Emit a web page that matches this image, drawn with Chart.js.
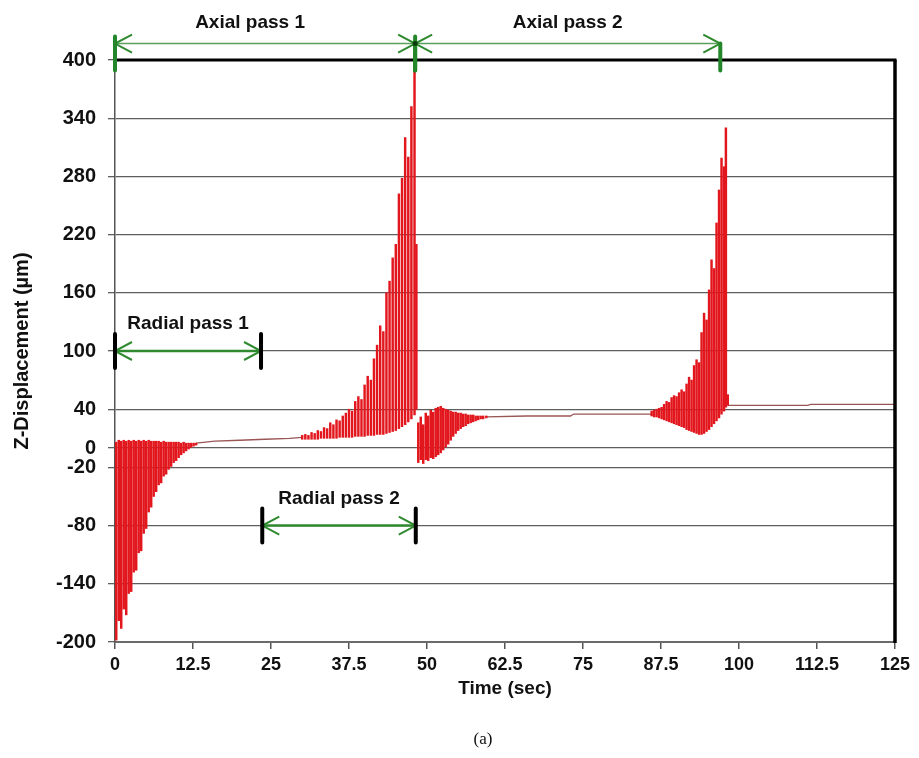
<!DOCTYPE html>
<html>
<head>
<meta charset="utf-8">
<script src="https://cdn.jsdelivr.net/npm/chart.js@4.4.1/dist/chart.umd.min.js"></script>
<style>
  html, body { margin: 0; padding: 0; background: #ffffff; }
  #wrap { width: 919px; height: 758px; position: relative; }
</style>
</head>
<body>
<div id="wrap"><canvas id="c"></canvas></div>
<script>
// Tick values of both axes
const xTickValues = [0, 12.5, 25, 37.5, 50, 62.5, 75, 87.5, 100, 112.5, 125];
const yTickValues = [400, 340, 280, 220, 160, 100, 40, 0, -20, -80, -140, -200];

// Oscillating displacement: each sample is one vertical swing (time, lowest, highest) in µm
const sampleTime = [
  0.2, 0.6, 1.0, 1.4, 1.8, 2.2, 2.6, 3.0, 3.4, 3.8, 4.2, 4.6, 5.0, 5.4, 5.8, 6.2, 6.6,
  7.0, 7.4, 7.8, 8.2, 8.6, 9.0, 9.4, 9.8, 10.2, 10.6, 11.0, 11.4, 11.8, 12.2, 12.6, 13.0,
  30.0, 30.5, 31.0, 31.5, 32.0, 32.5, 33.0, 33.5, 34.0, 34.5, 35.0, 35.5, 36.0, 36.5,
  37.0, 37.5, 38.0, 38.5, 39.0, 39.5, 40.0, 40.5, 41.0, 41.5, 42.0, 42.5, 43.0, 43.5,
  44.0, 44.5, 45.0, 45.5, 46.0, 46.5, 47.0, 47.5, 48.0, 48.3,
  48.6, 49.0, 49.4, 49.8, 50.2, 50.6, 51.0, 51.4, 51.8, 52.2, 52.6, 53.0, 53.4, 53.8,
  54.2, 54.6, 55.0, 55.4, 55.8, 56.2, 56.6, 57.0, 57.4, 57.8, 58.2, 58.6, 59.0, 59.5,
  86.0, 86.4, 86.8, 87.2, 87.6, 88.0, 88.4, 88.8, 89.2, 89.6, 90.0, 90.4, 90.8, 91.2,
  91.6, 92.0, 92.4, 92.8, 93.2, 93.6, 94.0, 94.4, 94.8, 95.2, 95.6, 96.0, 96.4, 96.8,
  97.2, 97.6, 97.9, 98.2
];
const sampleLow = [
  -198, -178, -186, -166, -172, -150, -148, -128, -126, -108, -106, -88, -83, -66, -61, -50, -45,
  -38, -36, -29, -27, -22, -19, -15, -13, -10, -7, -5, -3, -1, 0, 2, 3,
  9, 9, 9, 9, 9, 9, 10, 10, 10, 10, 10, 10, 11, 11,
  11, 11, 11, 12, 12, 12, 12, 13, 13, 13, 14, 14, 14, 15,
  16, 17, 18, 20, 22, 24, 27, 30, 34, 40,
  -15, -12, -16, -12, -13, -10, -11, -9, -7, -5, -2, 1, 4, 8,
  12, 15, 18, 20, 22, 23, 25, 26, 27, 28, 29, 30, 30, 31,
  33, 32, 32, 31, 30, 29, 28, 27, 26, 25, 24, 23, 22, 21,
  19, 18, 17, 16, 15, 14, 14, 15, 17, 19, 22, 25, 28, 31,
  35, 38, 42, 44
];
const sampleHigh = [
  6, 8, 7, 8, 7, 8, 7, 8, 7, 8, 7, 8, 7, 8, 7, 7, 7,
  7, 6, 7, 6, 6, 6, 6, 6, 6, 5, 6, 5, 5, 5, 5, 5,
  13, 14, 13, 16, 15, 18, 17, 21, 20, 26, 24, 29, 28, 33,
  36, 40, 38, 48, 53, 50, 65, 74, 70, 92, 106, 126, 120, 160,
  172, 196, 210, 262, 278, 320, 300, 352, 392, 210,
  26, 32, 24, 36, 33, 39, 37, 41, 42, 43, 41, 40, 39, 38,
  37, 37, 36, 36, 35, 35, 34, 34, 34, 33, 33, 33, 33, 33,
  38, 39, 40, 41, 42, 45, 48, 47, 52, 54, 53, 57, 60, 58,
  66, 73, 70, 85, 91, 88, 119, 139, 132, 163, 194, 185, 232, 266,
  299, 290, 330, 55
];

// Quiet stretches of the trace between the oscillation bursts (null = gap)
const traceTime  = [13, 16, 20, 24, 28, 30, 40, 59.5, 66, 73, 73.5, 80, 86, 92, 98.2, 105, 111, 111.5, 125];
const traceValue = [5, 7, 8, 9, 10, 11, null, 32, 33, 33, 35, 35, 35, null, 44, 44, 44, 45, 45];

// Machining passes marked above and inside the plot
const passName  = ['Axial pass 1', 'Axial pass 2', 'Radial pass 1', 'Radial pass 2'];
const passStart = [0, 48.1, 0, 23.6];
const passEnd   = [48.1, 97.0, 23.4, 48.2];
const passLevel = [417, 417, 100, -80];

const FONT = '"Liberation Sans", Arial, sans-serif';

const bars = sampleTime.map((t, i) => ({ x: t, y: [sampleLow[i], sampleHigh[i]] }));
const trace = traceTime.map((t, i) => ({ x: t, y: traceValue[i] }));

function chevron(ctx, x, y, dir, len, spread) {
  ctx.beginPath();
  ctx.moveTo(x + dir * len, y - spread);
  ctx.lineTo(x, y);
  ctx.lineTo(x + dir * len, y + spread);
  ctx.stroke();
}

const framePlugin = {
  id: 'frame',
  afterDatasetsDraw(chart) {
    const { ctx, chartArea: a } = chart;
    ctx.save();
    ctx.strokeStyle = '#000';
    ctx.lineCap = 'butt';
    ctx.lineWidth = 3;
    ctx.beginPath();
    ctx.moveTo(a.left, a.top);
    ctx.lineTo(a.right + 1.5, a.top);
    ctx.stroke();
    ctx.lineWidth = 3.5;
    ctx.beginPath();
    ctx.moveTo(a.right, a.top);
    ctx.lineTo(a.right, a.bottom + 1);
    ctx.stroke();
    ctx.restore();
  },
  afterDraw(chart) {
    const { ctx } = chart;
    const xs = chart.scales.x, ys = chart.scales.y;
    ctx.save();
    for (let i = 0; i < passName.length; i++) {
      const x1 = xs.getPixelForValue(passStart[i]);
      const x2 = xs.getPixelForValue(passEnd[i]);
      const y = ys.getPixelForValue(passLevel[i]);
      const axial = passName[i].startsWith('Axial');
      // shaft
      ctx.strokeStyle = axial ? '#5c9e5c' : '#2f8a2f';
      ctx.lineWidth = axial ? 1.5 : 2.5;
      ctx.beginPath();
      ctx.moveTo(x1, y);
      ctx.lineTo(x2, y);
      ctx.stroke();
      // heads
      ctx.strokeStyle = '#2f8a2f';
      ctx.lineWidth = 2;
      chevron(ctx, x1, y, 1, 17, 9);
      chevron(ctx, x2, y, -1, 17, 9);
      // end bars
      ctx.lineCap = 'round';
      if (axial) {
        ctx.strokeStyle = '#23862a';
        ctx.lineWidth = 4;
        ctx.beginPath();
        ctx.moveTo(x1, i === 0 ? y - 7 : y);
        ctx.lineTo(x1, y + 27);
        ctx.moveTo(x2, i === 0 ? y - 7 : y);
        ctx.lineTo(x2, y + 27);
        ctx.stroke();
      } else {
        ctx.strokeStyle = '#000';
        ctx.lineWidth = 4;
        ctx.beginPath();
        ctx.moveTo(x1, y - 17);
        ctx.lineTo(x1, y + 17);
        ctx.moveTo(x2, y - 17);
        ctx.lineTo(x2, y + 17);
        ctx.stroke();
      }
      ctx.lineCap = 'butt';
      // label
      ctx.fillStyle = '#111';
      ctx.font = 'bold 19px ' + FONT;
      ctx.textAlign = 'center';
      ctx.textBaseline = 'middle';
      const cx = i === 0 ? (x1 + x2) / 2 - 15 : (x1 + x2) / 2;
      ctx.fillText(passName[i], cx, y - (axial ? 21 : 27));
    }
    // junction dot between the two axial passes
    const jx = xs.getPixelForValue(passEnd[0]);
    const jy = ys.getPixelForValue(passLevel[0]);
    ctx.fillStyle = '#0b3d0b';
    ctx.beginPath();
    ctx.arc(jx, jy, 2.5, 0, Math.PI * 2);
    ctx.fill();
    // caption
    ctx.fillStyle = '#111';
    ctx.font = '17px "Liberation Serif", "Times New Roman", serif';
    ctx.textAlign = 'center';
    ctx.textBaseline = 'middle';
    ctx.fillText('(a)', 483, 740);
    ctx.restore();
  }
};

new Chart(document.getElementById('c'), {
  type: 'bar',
  data: {
    datasets: [
      {
        type: 'line',
        data: trace,
        borderColor: '#9a5555',
        borderWidth: 1.3,
        pointRadius: 0,
        spanGaps: false,
        order: 2
      },
      {
        type: 'bar',
        data: bars,
        backgroundColor: '#e2171e',
        borderWidth: 0,
        barThickness: 1.8,
        grouped: false,
        order: 1
      }
    ]
  },
  options: {
    responsive: true,
    maintainAspectRatio: false,
    animation: false,
    layout: { padding: { top: 60, right: 24, left: 0, bottom: 0 } },
    plugins: { legend: { display: false }, tooltip: { enabled: false } },
    scales: {
      x: {
        type: 'linear',
        min: 0,
        max: 125,
        offset: false,
        afterFit: s => { s.height = 116; },
        afterBuildTicks: s => { s.ticks = xTickValues.map(v => ({ value: v })); },
        grid: { offset: false, drawOnChartArea: false, drawTicks: true, tickLength: 7, color: '#555', lineWidth: 1.5 },
        border: { color: '#6a6a6a', width: 2 },
        ticks: {
          autoSkip: false,
          maxRotation: 0,
          padding: 5,
          color: '#111',
          font: { family: FONT, size: 18, weight: 'bold' },
          callback: v => String(v)
        },
        title: {
          display: true,
          text: 'Time (sec)',
          color: '#111',
          font: { family: FONT, size: 19, weight: 'bold' },
          padding: { top: 0, bottom: 58 }
        }
      },
      y: {
        type: 'linear',
        min: -200,
        max: 400,
        afterFit: s => { s.width = 115; },
        afterBuildTicks: s => { s.ticks = yTickValues.map(v => ({ value: v })); },
        grid: { color: '#5e5e5e', lineWidth: 1.3, tickLength: 7, drawTicks: true },
        border: { color: '#555', width: 1.5 },
        ticks: {
          autoSkip: false,
          padding: 12,
          color: '#111',
          font: { family: FONT, size: 20, weight: 'bold' },
          callback: v => String(v)
        },
        title: {
          display: true,
          text: 'Z-Displacement (µm)',
          color: '#111',
          font: { family: FONT, size: 20, weight: 'bold' },
          padding: { top: 10, bottom: 0 }
        }
      }
    }
  },
  plugins: [framePlugin]
});
</script>
</body>
</html>
